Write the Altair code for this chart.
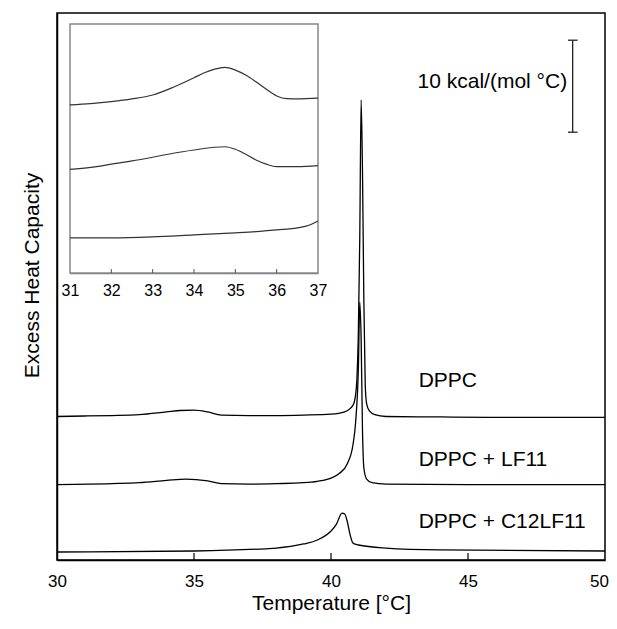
import altair as alt
import pandas as pd

# ---------------- main DSC curves (temperature °C, excess heat capacity kcal/(mol °C), offset) ----
dppc_t = [30, 31, 32, 33, 34, 34.5, 35, 35.5, 36, 37, 38, 39, 40, 40.5, 40.8, 40.9, 40.95, 41.0,
          41.05, 41.1, 41.15, 41.2, 41.25, 41.3, 41.4, 41.6, 42, 44, 46, 48, 50]
dppc_cp = [15.6, 15.65, 15.7, 15.8, 16.1, 16.25, 16.3, 16.1, 15.75, 15.7, 15.7, 15.75, 15.85, 16.1,
           16.8, 18.0, 20.0, 25.0, 35.0, 50.0, 42.0, 28.0, 19.0, 17.0, 16.2, 15.8, 15.6, 15.55, 15.5,
           15.5, 15.5]

lf11_t = [30, 32, 33, 34, 34.7, 35.5, 36, 37, 38, 39, 39.5, 40, 40.3, 40.6, 40.8, 40.9, 41.0, 41.05,
          41.1, 41.15, 41.2, 41.3, 41.5, 42, 45, 50]
lf11_cp = [8.2, 8.3, 8.4, 8.65, 8.8, 8.6, 8.3, 8.25, 8.3, 8.4, 8.55, 8.9, 9.4, 10.5, 12.5, 15.0,
           21.0, 28.0, 24.0, 14.0, 10.0, 8.8, 8.4, 8.25, 8.2, 8.2]

c12_t = [30, 35, 38, 39, 39.5, 40, 40.2, 40.4, 40.5, 40.6, 40.7, 40.8, 41, 42, 44, 50]
c12_cp = [0.87, 0.98, 1.3, 1.74, 2.17, 3.15, 3.9, 5.1, 5.0, 4.1, 2.7, 1.85, 1.63, 1.3, 1.1, 0.98]

series_names = ["DPPC", "DPPC + LF11", "DPPC + C12LF11"]
label_t = [43.2, 43.2, 43.2]
label_cp = [19.46, 10.87, 4.13]

x_ticks = [30, 35, 40, 45, 50]

# scale bar: 10 kcal/(mol °C)
bar_t = 48.82
bar_cap_t = [48.65, 49.0]
bar_cp = [46.5, 56.5]
bar_text = "10 kcal/(mol °C)"

# ---------------- inset curves (31–37 °C, inset units) ----------------
in_dppc_t = [31, 31.5, 32, 32.5, 33, 33.5, 34, 34.25, 34.5, 34.75, 35, 35.25, 35.5, 35.75, 36,
             36.25, 36.5, 37]
in_dppc_v = [67.5, 68.0, 68.8, 69.9, 71.5, 74.6, 78.4, 80.4, 81.9, 82.6, 81.5, 79.5, 76.8, 73.8,
             71.1, 70.0, 69.9, 70.2]
in_lf11_t = [31, 31.5, 32, 32.5, 33, 33.5, 34, 34.5, 34.75, 35, 35.25, 35.5, 35.75, 36, 36.5, 37]
in_lf11_v = [41.6, 42.4, 43.7, 45.0, 46.5, 48.1, 49.4, 50.5, 50.7, 49.7, 47.7, 45.4, 43.7, 42.7,
             42.7, 43.1]
in_c12_t = [31, 32, 33, 34, 35, 35.5, 36, 36.5, 36.8, 37]
in_c12_v = [14.1, 14.1, 14.5, 15.3, 16.1, 16.6, 17.3, 18.1, 19.3, 20.9]
inset_ticks = [31, 32, 33, 34, 35, 36, 37]

FONT = "Liberation Sans"

main_df = pd.concat([
    pd.DataFrame({"t": dppc_t, "cp": dppc_cp, "s": series_names[0]}),
    pd.DataFrame({"t": lf11_t, "cp": lf11_cp, "s": series_names[1]}),
    pd.DataFrame({"t": c12_t, "cp": c12_cp, "s": series_names[2]}),
])
inset_df = pd.concat([
    pd.DataFrame({"t": in_dppc_t, "v": in_dppc_v, "s": series_names[0]}),
    pd.DataFrame({"t": in_lf11_t, "v": in_lf11_v, "s": series_names[1]}),
    pd.DataFrame({"t": in_c12_t, "v": in_c12_v, "s": series_names[2]}),
])

xs = alt.Scale(domain=[30, 50], nice=False, zero=False)
ys = alt.Scale(domain=[0, 547 / 9.2], nice=False, zero=False)

x_main = alt.X("t:Q", scale=xs, axis=alt.Axis(
    values=x_ticks, title="Temperature [°C]", tickSize=0, labelFlush=False, labelPadding=13,
    labelOffset={"condition": {"test": "datum.value === 50", "value": -6}, "value": 0},
    titlePadding=3, labelFontSize=17, titleFontSize=21, domainColor="black", domainWidth=1.5,
    grid=False, format="d"))
y_main = alt.Y("cp:Q", scale=ys, axis=alt.Axis(
    title="Excess Heat Capacity", labels=False, ticks=False, grid=False, titlePadding=15,
    titleFontSize=21, titleY=262, domainColor="black", domainWidth=1.5))

lines = alt.Chart(main_df).mark_line(color="black", strokeWidth=1.3, interpolate="monotone").encode(
    x=x_main, y=y_main, detail="s:N", order=alt.Order("t:Q"))

tick_df = pd.DataFrame({"t": x_ticks[1:-1], "y0": 0.0, "y1": 0.75})
ticks = alt.Chart(tick_df).mark_rule(color="black", strokeWidth=1.2).encode(
    x=alt.X("t:Q", scale=xs), y=alt.Y("y0:Q", scale=ys), y2="y1:Q")

lab_df = pd.DataFrame({"t": label_t, "cp": label_cp, "s": series_names})
labels = alt.Chart(lab_df).mark_text(align="left", baseline="middle", fontSize=21, font=FONT,
                                     color="black").encode(
    x=alt.X("t:Q", scale=xs), y=alt.Y("cp:Q", scale=ys), text="s:N")

bar_df = pd.DataFrame({"t": [bar_t], "y0": [bar_cp[0]], "y1": [bar_cp[1]]})
bar = alt.Chart(bar_df).mark_rule(color="#222", strokeWidth=1.3).encode(
    x=alt.X("t:Q", scale=xs), y=alt.Y("y0:Q", scale=ys), y2="y1:Q")
cap_df = pd.DataFrame({"t0": [bar_cap_t[0]] * 2, "t1": [bar_cap_t[1]] * 2, "cp": bar_cp})
caps = alt.Chart(cap_df).mark_rule(color="#222", strokeWidth=1.3).encode(
    x=alt.X("t0:Q", scale=xs), x2="t1:Q", y=alt.Y("cp:Q", scale=ys))
bt_df = pd.DataFrame({"t": [bar_cap_t[0] - 0.03], "cp": [51.96], "txt": [bar_text]})
bar_label = alt.Chart(bt_df).mark_text(align="right", baseline="middle", fontSize=21, font=FONT,
                                       color="black").encode(
    x=alt.X("t:Q", scale=xs), y=alt.Y("cp:Q", scale=ys), text="txt:N")

main = alt.layer(lines, ticks, labels, bar, caps, bar_label)

# ---------------- inset ----------------
ixs = alt.Scale(domain=[31, 37], range=[13, 261], nice=False, zero=False)
iys = alt.Scale(domain=[0, 100], range=[260, 11], nice=False, zero=False)
ix = alt.X("t:Q", scale=ixs, axis=alt.Axis(
    orient="bottom", offset=-287, values=inset_ticks, tickSize=0, labelFontSize=16,
    labelPadding=9, labelFlush=False, title=None, domainColor="#777", domainWidth=1.5,
    grid=False, format="d"))
iy = alt.Y("v:Q", scale=iys, axis=None)

frame_df = pd.DataFrame({"t": [inset_ticks[0]], "t2": [inset_ticks[-1]], "v": [0], "v2": [100]})
frame = alt.Chart(frame_df).mark_rect(fill="white", stroke="#888", strokeWidth=1.5).encode(
    x=ix, x2="t2:Q", y=iy, y2="v2:Q")
inset_lines = alt.Chart(inset_df).mark_line(color="#333", strokeWidth=1.2, interpolate="monotone").encode(
    x=ix, y=iy, detail="s:N", order=alt.Order("t:Q"))
itick_df = pd.DataFrame({"t": inset_ticks[1:-1], "v": 0.0, "v2": 1.6})
iticks = alt.Chart(itick_df).mark_rule(color="#555", strokeWidth=1).encode(
    x=ix, y=iy, y2="v2:Q")

inset = alt.layer(frame, inset_lines, iticks)

chart = alt.layer(main, inset).resolve_scale(x="independent", y="independent").resolve_axis(
    x="independent", y="independent").properties(
    width=548, height=547, autosize=alt.AutoSizeParams(type="none"),
    padding={"left": 49, "top": 5, "right": 4, "bottom": 56}
).configure_view(stroke="black", strokeWidth=1.5).configure_axis(
    labelFont=FONT, titleFont=FONT, titleFontWeight="normal", labelColor="black",
    titleColor="black")

chart.save("out.html", embed_options={"renderer": "svg", "actions": False})
